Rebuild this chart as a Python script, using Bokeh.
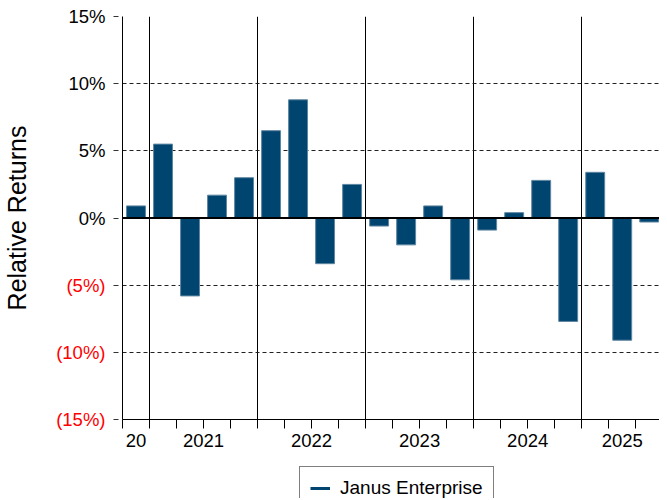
from bokeh.plotting import figure
from bokeh.layouts import column
from bokeh.models import Range1d, FixedTicker, Span, Legend, LegendItem, ColumnDataSource, LinearAxis
from bokeh.embed import file_html
from bokeh.resources import INLINE

# ---- data ----
positions = list(range(20))
returns = [0.9, 5.5, -5.8, 1.7, 3.0, 6.5, 8.8, -3.4, 2.5, -0.6,
           -2.0, 0.9, -4.6, -0.9, 0.4, 2.8, -7.7, 3.4, -9.1, -0.3]
year_labels = ["20", "2021", "2022", "2023", "2024", "2025"]
year_label_pos = [0, 2.5, 6.5, 10.5, 14.5, 18]
year_bounds = [0.5, 4.5, 8.5, 12.5, 16.5]
quarter_bounds = [i - 0.5 for i in range(21)]
y_ticks = [-15, -10, -5, 0, 5, 10, 15]
y_grid = [-10, -5, 5, 10]
series_name = "Janus Enterprise"

FONT = "Liberation Sans"
BAR = "#004570"
TICK_FS = "18.5px"


def pct_label(v):
    return f"{v}%" if v >= 0 else f"({-v}%)"


p = figure(width=659, height=459, x_range=Range1d(-0.5, 19.38), y_range=Range1d(-15, 15),
           output_backend="svg", toolbar_location=None,
           min_border_left=115, min_border_right=0, min_border_top=16, min_border_bottom=40)
p.outline_line_color = None
p.background_fill_color = "white"

src = ColumnDataSource(dict(x=positions, y=returns))
p.vbar(x="x", top="y", width=0.7, source=src, fill_color=BAR, line_color="#5f86a0", line_width=1)

# zero line
p.add_layout(Span(location=0, dimension="width", line_color="black", line_width=2))

# grids
p.xgrid.ticker = FixedTicker(ticks=year_bounds)
p.xgrid.grid_line_color = "black"
p.xgrid.grid_line_width = 1
p.ygrid.ticker = FixedTicker(ticks=y_grid)
p.ygrid.grid_line_color = "#222222"
p.ygrid.grid_line_dash = "4 3"
p.ygrid.grid_line_width = 1

# x axis
xa = p.xaxis[0]
xa.ticker = FixedTicker(ticks=year_label_pos, minor_ticks=quarter_bounds)
xa.major_label_overrides = {pos: lab for pos, lab in zip(year_label_pos, year_labels)}
xa.major_tick_out = 0
xa.major_tick_in = 0
xa.minor_tick_out = 9
xa.minor_tick_in = 0
xa.minor_tick_line_color = "black"
xa.axis_line_color = "black"
xa.major_label_text_font = FONT
xa.major_label_text_font_size = TICK_FS
xa.major_label_text_color = "black"
xa.major_label_standoff = 5

# inner y axis: ticks + red negative labels
ya = p.yaxis[0]
ya.ticker = FixedTicker(ticks=y_ticks)
ya.major_label_overrides = {v: (pct_label(v) if v < 0 else "") for v in y_ticks}
ya.minor_tick_line_color = None
ya.major_tick_out = 9
ya.major_tick_in = 0
ya.major_tick_line_color = "#333333"
ya.major_tick_line_dash = "5 4"
ya.axis_line_color = "black"
ya.major_label_text_font = FONT
ya.major_label_text_font_size = TICK_FS
ya.major_label_text_color = "red"
ya.major_label_standoff = 8

# outer y axis: black non-negative labels, shifted onto the same column, plus axis title
ya2 = LinearAxis(ticker=FixedTicker(ticks=y_ticks),
                 major_label_overrides={v: (pct_label(v) if v >= 0 else "") for v in y_ticks})
ya2.axis_line_color = None
ya2.major_tick_line_color = None
ya2.minor_tick_line_color = None
ya2.major_tick_out = 0
ya2.major_tick_in = 0
ya2.major_label_text_font = FONT
ya2.major_label_text_font_size = TICK_FS
ya2.major_label_text_color = "black"
ya2.major_label_standoff = -52
ya2.axis_label = "Relative Returns"
ya2.axis_label_text_font = FONT
ya2.axis_label_text_font_size = "25px"
ya2.axis_label_text_font_style = "normal"
ya2.axis_label_text_color = "black"
ya2.axis_label_standoff = 34
p.add_layout(ya2, "left")

# legend in its own strip under the chart (series line lies outside this strip's ranges)
lf = figure(width=659, height=39, x_range=Range1d(100, 101), y_range=Range1d(100, 101),
            output_backend="svg", toolbar_location=None,
            x_axis_location=None, y_axis_location=None,
            min_border_left=0, min_border_right=0, min_border_top=0, min_border_bottom=0)
lf.outline_line_color = None
lf.xgrid.visible = False
lf.ygrid.visible = False
series_line = lf.line(x=positions, y=returns, line_color=BAR, line_width=3)
legend = Legend(items=[LegendItem(label=series_name, renderers=[series_line])],
                location=(177, -12), orientation="horizontal")
legend.label_text_font = FONT
legend.label_text_font_size = "19px"
legend.label_text_color = "black"
legend.glyph_width = 20
legend.glyph_height = 20
legend.label_height = 20
legend.label_standoff = 10
legend.padding = 10
legend.margin = 0
legend.border_line_color = "black"
legend.border_line_width = 1
legend.background_fill_color = "white"
lf.add_layout(legend, "center")

layout = column(p, lf, spacing=0)
open("out.html", "w").write(file_html(layout, INLINE))
